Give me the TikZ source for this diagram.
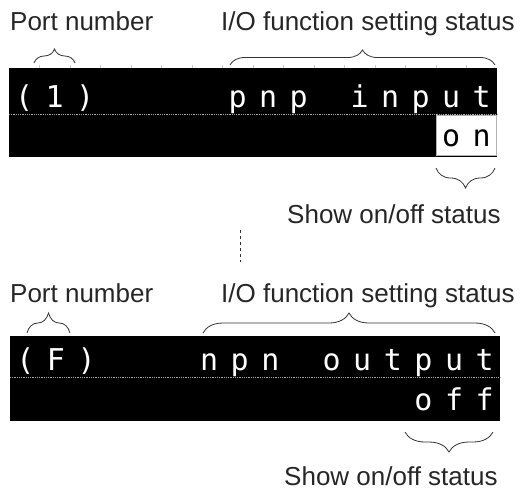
\documentclass[tikz,border=0pt]{standalone}
\usepackage{fontspec}
\setmainfont{Liberation Sans}
\newfontfamily\monofont{DejaVu Sans Mono}
\usetikzlibrary{decorations.pathreplacing}
\tikzset{
  lbl/.style={anchor=base west, inner sep=0pt, font=\fontsize{26}{30}\selectfont, text=black!85},
  lcd/.style={fill=black, draw=none},
  ch/.style={anchor=base, inner sep=0pt, font=\monofont\fontsize{30}{32}\selectfont, text=white},
  chinv/.style={ch, text=black},
  dotline/.style={draw=gray!70, line width=0.9pt, dash pattern=on 0.9pt off 0.9pt},
  bracedown/.style={decorate, decoration={brace, amplitude=#1}, draw=black!80, line width=0.8pt},
  tick/.style={draw=gray!45, line width=0.6pt},
}
\begin{document}
\begin{tikzpicture}[x=1pt,y=-1pt]
\useasboundingbox (0,0) rectangle (526,491);

% ---------- upper display ----------
\node[lbl] (pn1) at (10,30) {Port number};
\node[lbl] (io1) at (221,30) {I/O function setting status};

\foreach \k in {1,...,15} {\draw[tick] (9+30.5*\k,65) -- (9+30.5*\k,68);}
\path[lcd] (9,68) rectangle (497,157);
\draw[dotline] (9,114) -- (497,114);
\path[fill=white, draw=gray!60, line width=0.6pt] (436,115) rectangle (496,155);

\foreach \c/\t in {1/(,2/1,3/),8/p,9/n,10/p,12/i,13/n,14/p,15/u,16/t}
  {\node[ch] (a\c) at (9+30.5*\c-15.25,107) {\t};}
\foreach \c/\t in {15/o,16/n}
  {\node[chinv] (b\c) at (9+30.5*\c-15.25,146) {\t};}

\coordinate (p1l) at (34,63); \coordinate (p1r) at (75,63);
\coordinate (i1l) at (230,65); \coordinate (i1r) at (495,65);
\coordinate (s1l) at (436,168); \coordinate (s1r) at (495,168);
\draw[bracedown=14pt] (p1l) -- (p1r);
\draw[bracedown=15pt] (i1l) -- (i1r);
\draw[bracedown=20pt] (s1r) -- (s1l);

\node[lbl] (sh1) at (287,223) {Show on/off status};

% dashed separator
\coordinate (d1) at (240,230); \coordinate (d2) at (240,262);
\draw[black!80, line width=0.7pt, dash pattern=on 3pt off 3pt] (d1) -- (d2);

% ---------- lower display ----------
\node[lbl] (pn2) at (10,302) {Port number};
\node[lbl] (io2) at (221,302) {I/O function setting status};

\path[lcd] (10,336) rectangle (500,421);
\draw[dotline] (10,377) -- (500,377);

\foreach \c/\t in {1/(,2/F,3/),7/n,8/p,9/n,11/o,12/u,13/t,14/p,15/u,16/t}
  {\node[ch] (c\c) at (10+30.625*\c-15.31,370) {\t};}
\foreach \c/\t in {14/o,15/f,16/f}
  {\node[ch] (d\c) at (10+30.625*\c-15.31,410) {\t};}

\coordinate (p2l) at (27,333); \coordinate (p2r) at (70,333);
\coordinate (i2l) at (203,333); \coordinate (i2r) at (495,333);
\coordinate (s2l) at (405,432); \coordinate (s2r) at (493,432);
\draw[bracedown=20pt] (p2l) -- (p2r);
\draw[bracedown=20pt] (i2l) -- (i2r);
\draw[bracedown=20pt] (s2r) -- (s2l);

\node[lbl] (sh2) at (284,485) {Show on/off status};
\end{tikzpicture}
\end{document}
